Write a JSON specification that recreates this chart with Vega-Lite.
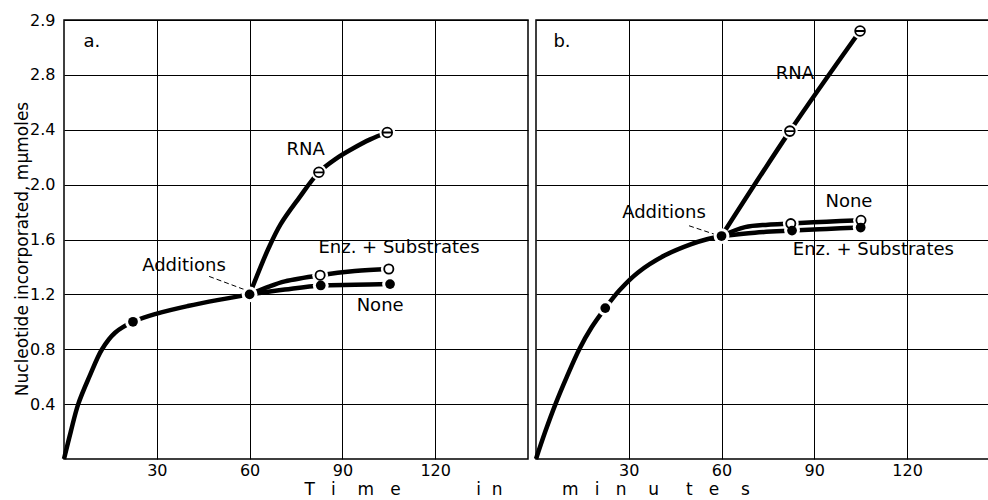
{
  "$schema": "https://vega.github.io/schema/vega-lite/v6.json",
  "padding": {"left": 12, "top": 11, "right": 0, "bottom": 0},
  "bounds": "flush",
  "spacing": 8,
  "background": "white",
  "config": {
    "view": {"stroke": "black", "strokeWidth": 1.5},
    "font": "DejaVu Sans",
    "axis": {
      "domain": false, "ticks": false, "grid": true,
      "gridColor": "black", "gridOpacity": 1, "gridWidth": 1,
      "labelFont": "DejaVu Sans", "labelFontSize": 16, "labelColor": "black",
      "titleFont": "DejaVu Sans", "titleFontSize": 17, "titleFontWeight": "normal", "titleColor": "black"
    }
  },
  "data": {"values": [
    {"p":"a","k":"curve","s":"base","t":0,"v":0},
    {"p":"a","k":"curve","s":"base","t":2.2,"v":0.2},
    {"p":"a","k":"curve","s":"base","t":4.6,"v":0.4},
    {"p":"a","k":"curve","s":"base","t":8.2,"v":0.6},
    {"p":"a","k":"curve","s":"base","t":12.3,"v":0.8},
    {"p":"a","k":"curve","s":"base","t":16.5,"v":0.92},
    {"p":"a","k":"curve","s":"base","t":22.3,"v":1.0},
    {"p":"a","k":"curve","s":"base","t":30,"v":1.06},
    {"p":"a","k":"curve","s":"base","t":40,"v":1.115},
    {"p":"a","k":"curve","s":"base","t":50,"v":1.16},
    {"p":"a","k":"curve","s":"base","t":60,"v":1.2},
    {"p":"a","k":"curve","s":"RNA","t":60,"v":1.2},
    {"p":"a","k":"curve","s":"RNA","t":63,"v":1.37},
    {"p":"a","k":"curve","s":"RNA","t":66.2,"v":1.54},
    {"p":"a","k":"curve","s":"RNA","t":70,"v":1.71},
    {"p":"a","k":"curve","s":"RNA","t":75.9,"v":1.9},
    {"p":"a","k":"curve","s":"RNA","t":82.4,"v":2.09},
    {"p":"a","k":"curve","s":"RNA","t":88,"v":2.19},
    {"p":"a","k":"curve","s":"RNA","t":93.1,"v":2.26},
    {"p":"a","k":"curve","s":"RNA","t":99,"v":2.33},
    {"p":"a","k":"curve","s":"RNA","t":104.5,"v":2.38},
    {"p":"a","k":"curve","s":"Enz","t":60,"v":1.2},
    {"p":"a","k":"curve","s":"Enz","t":66,"v":1.255},
    {"p":"a","k":"curve","s":"Enz","t":71.4,"v":1.295},
    {"p":"a","k":"curve","s":"Enz","t":82.8,"v":1.34},
    {"p":"a","k":"curve","s":"Enz","t":94,"v":1.37},
    {"p":"a","k":"curve","s":"Enz","t":105,"v":1.385},
    {"p":"a","k":"curve","s":"None","t":60,"v":1.2},
    {"p":"a","k":"curve","s":"None","t":71.4,"v":1.235},
    {"p":"a","k":"curve","s":"None","t":83,"v":1.265},
    {"p":"a","k":"curve","s":"None","t":94,"v":1.27},
    {"p":"a","k":"curve","s":"None","t":105.4,"v":1.275},
    {"p":"a","k":"pt","m":"filled","t":22.3,"v":1.0},
    {"p":"a","k":"pt","m":"filled","t":60,"v":1.2},
    {"p":"a","k":"pt","m":"filled","t":83,"v":1.265},
    {"p":"a","k":"pt","m":"filled","t":105.4,"v":1.275},
    {"p":"a","k":"pt","m":"open","t":82.8,"v":1.34},
    {"p":"a","k":"pt","m":"open","t":105,"v":1.385},
    {"p":"a","k":"pt","m":"bar","t":82.4,"v":2.09},
    {"p":"a","k":"pt","m":"bar","t":104.5,"v":2.38},
    {"p":"a","k":"lead","s":"lead","t":46.9,"v":1.331},
    {"p":"a","k":"lead","s":"lead","t":58.2,"v":1.236},
    {"p":"a","k":"label","label":"a.","t":9.0,"v":3.04},
    {"p":"a","k":"label","label":"RNA","t":78.1,"v":2.255},
    {"p":"a","k":"label","label":"Enz. + Substrates","t":108.3,"v":1.535},
    {"p":"a","k":"label","label":"None","t":102.2,"v":1.113},
    {"p":"a","k":"label","label":"Additions","t":38.8,"v":1.404},

    {"p":"b","k":"curve","s":"base","t":0,"v":0},
    {"p":"b","k":"curve","s":"base","t":3,"v":0.2},
    {"p":"b","k":"curve","s":"base","t":6.3,"v":0.4},
    {"p":"b","k":"curve","s":"base","t":10,"v":0.6},
    {"p":"b","k":"curve","s":"base","t":14,"v":0.8},
    {"p":"b","k":"curve","s":"base","t":18,"v":0.96},
    {"p":"b","k":"curve","s":"base","t":22.4,"v":1.1},
    {"p":"b","k":"curve","s":"base","t":27,"v":1.23},
    {"p":"b","k":"curve","s":"base","t":33,"v":1.36},
    {"p":"b","k":"curve","s":"base","t":41.7,"v":1.485},
    {"p":"b","k":"curve","s":"base","t":50,"v":1.565},
    {"p":"b","k":"curve","s":"base","t":55,"v":1.6},
    {"p":"b","k":"curve","s":"base","t":60,"v":1.625},
    {"p":"b","k":"curve","s":"RNA","t":60,"v":1.625},
    {"p":"b","k":"curve","s":"RNA","t":82.1,"v":2.39},
    {"p":"b","k":"curve","s":"RNA","t":104.8,"v":3.12},
    {"p":"b","k":"curve","s":"None","t":60,"v":1.625},
    {"p":"b","k":"curve","s":"None","t":67.6,"v":1.69},
    {"p":"b","k":"curve","s":"None","t":75,"v":1.708},
    {"p":"b","k":"curve","s":"None","t":82.4,"v":1.716},
    {"p":"b","k":"curve","s":"None","t":94,"v":1.73},
    {"p":"b","k":"curve","s":"None","t":105.1,"v":1.74},
    {"p":"b","k":"curve","s":"Enz","t":60,"v":1.625},
    {"p":"b","k":"curve","s":"Enz","t":70.8,"v":1.65},
    {"p":"b","k":"curve","s":"Enz","t":82.8,"v":1.665},
    {"p":"b","k":"curve","s":"Enz","t":94,"v":1.677},
    {"p":"b","k":"curve","s":"Enz","t":105,"v":1.687},
    {"p":"b","k":"pt","m":"filled","t":22.4,"v":1.1},
    {"p":"b","k":"pt","m":"filled","t":60,"v":1.625},
    {"p":"b","k":"pt","m":"open","t":82.4,"v":1.716},
    {"p":"b","k":"pt","m":"open","t":105.1,"v":1.74},
    {"p":"b","k":"pt","m":"filled","t":82.8,"v":1.665},
    {"p":"b","k":"pt","m":"filled","t":105,"v":1.687},
    {"p":"b","k":"pt","m":"bar","t":82.1,"v":2.39},
    {"p":"b","k":"pt","m":"bar","t":104.8,"v":3.12},
    {"p":"b","k":"lead","s":"lead","t":49.5,"v":1.70},
    {"p":"b","k":"lead","s":"lead","t":57.5,"v":1.64},
    {"p":"b","k":"label","label":"b.","t":8.4,"v":3.04},
    {"p":"b","k":"label","label":"RNA","t":83.7,"v":2.807},
    {"p":"b","k":"label","label":"None","t":101.2,"v":1.876},
    {"p":"b","k":"label","label":"Enz. + Substrates","t":109.1,"v":1.52},
    {"p":"b","k":"label","label":"Additions","t":41.4,"v":1.79}
  ]},
  "hconcat": [
    {
      "width": 464, "height": 439,
      "transform": [{"filter": "datum.p == 'a'"}],
      "encoding": {
        "x": {"field": "t", "type": "quantitative", "scale": {"domain": [0, 150], "nice": false, "zero": false},
          "axis": {"values": [30, 60, 90, 120], "labelPadding": 3,
            "title": "T\u00a0\u00a0\u00a0i\u00a0\u00a0\u00a0\u00a0m\u00a0\u00a0\u00a0e\u00a0\u00a0\u00a0\u00a0\u00a0\u00a0\u00a0\u00a0\u00a0\u00a0\u00a0\u00a0\u00a0\u00a0i\u00a0\u00a0n\u00a0\u00a0\u00a0\u00a0\u00a0\u00a0\u00a0\u00a0\u00a0\u00a0\u00a0m\u00a0\u00a0\u00a0i\u00a0\u00a0\u00a0n\u00a0\u00a0\u00a0\u00a0u\u00a0\u00a0\u00a0\u00a0\u00a0t\u00a0\u00a0\u00a0e\u00a0\u00a0\u00a0\u00a0s",
            "titleX": 240, "titleY": 30, "titleAlign": "left", "titleBaseline": "middle"}},
        "y": {"field": "v", "type": "quantitative", "scale": {"domain": [0, 3.2], "nice": false, "zero": false},
          "axis": {"values": [0.4, 0.8, 1.2, 1.6, 2.0, 2.4, 2.8, 3.2],
            "labelExpr": "datum.value > 3 ? '2.9' : format(datum.value, '.1f')",
            "labelPadding": 9, "labelBaseline": "middle",
            "title": "Nucleotide incorporated, mμmoles",
            "titleX": -42, "titleY": 228.5, "titleAngle": -90, "titleAlign": "center", "titleBaseline": "middle"}}
      },
      "layer": [
        {"transform": [{"filter": "datum.k == 'lead'"}],
         "mark": {"type": "line", "stroke": "black", "strokeWidth": 1, "strokeDash": [5, 3]},
         "encoding": {"detail": {"field": "s"}}},
        {"transform": [{"filter": "datum.k == 'curve'"}],
         "mark": {"type": "line", "interpolate": "catmull-rom", "stroke": "black", "strokeWidth": 4.5},
         "encoding": {"detail": {"field": "s"}}},
        {"transform": [{"filter": "datum.k == 'pt'"}],
         "mark": {"type": "point", "shape": "circle", "filled": true, "color": "white", "opacity": 1, "size": 250}},
        {"transform": [{"filter": "datum.m == 'open'"}],
         "mark": {"type": "point", "shape": "circle", "filled": false, "fill": "white", "stroke": "black", "strokeWidth": 1.8, "opacity": 1, "size": 85}},
        {"transform": [{"filter": "datum.m == 'bar'"}],
         "mark": {"type": "point", "shape": "M-1,0A1,1,0,1,1,1,0A1,1,0,1,1,-1,0ZM-1,0L1,0", "filled": false, "fill": "white", "stroke": "black", "strokeWidth": 1.8, "opacity": 1, "size": 95}},
        {"transform": [{"filter": "datum.m == 'filled'"}],
         "mark": {"type": "point", "shape": "circle", "filled": true, "color": "black", "opacity": 1, "size": 95}},
        {"transform": [{"filter": "datum.k == 'label'"}],
         "mark": {"type": "text", "font": "DejaVu Sans", "fontSize": 18, "align": "center", "baseline": "middle", "color": "black"},
         "encoding": {"text": {"field": "label"}}}
      ]
    },
    {
      "width": 453, "height": 439,
      "transform": [{"filter": "datum.p == 'b'"}],
      "encoding": {
        "x": {"field": "t", "type": "quantitative", "scale": {"domain": [0, 146.5], "nice": false, "zero": false},
          "axis": {"values": [30, 60, 90, 120], "labelPadding": 3, "title": null}},
        "y": {"field": "v", "type": "quantitative", "scale": {"domain": [0, 3.2], "nice": false, "zero": false},
          "axis": {"values": [0.4, 0.8, 1.2, 1.6, 2.0, 2.4, 2.8, 3.2], "labels": false, "title": null}}
      },
      "layer": [
        {"transform": [{"filter": "datum.k == 'lead'"}],
         "mark": {"type": "line", "stroke": "black", "strokeWidth": 1, "strokeDash": [5, 3]},
         "encoding": {"detail": {"field": "s"}}},
        {"transform": [{"filter": "datum.k == 'curve'"}],
         "mark": {"type": "line", "interpolate": "catmull-rom", "stroke": "black", "strokeWidth": 4.5},
         "encoding": {"detail": {"field": "s"}}},
        {"transform": [{"filter": "datum.k == 'pt'"}],
         "mark": {"type": "point", "shape": "circle", "filled": true, "color": "white", "opacity": 1, "size": 250}},
        {"transform": [{"filter": "datum.m == 'open'"}],
         "mark": {"type": "point", "shape": "circle", "filled": false, "fill": "white", "stroke": "black", "strokeWidth": 1.8, "opacity": 1, "size": 85}},
        {"transform": [{"filter": "datum.m == 'bar'"}],
         "mark": {"type": "point", "shape": "M-1,0A1,1,0,1,1,1,0A1,1,0,1,1,-1,0ZM-1,0L1,0", "filled": false, "fill": "white", "stroke": "black", "strokeWidth": 1.8, "opacity": 1, "size": 95}},
        {"transform": [{"filter": "datum.m == 'filled'"}],
         "mark": {"type": "point", "shape": "circle", "filled": true, "color": "black", "opacity": 1, "size": 95}},
        {"transform": [{"filter": "datum.k == 'label'"}],
         "mark": {"type": "text", "font": "DejaVu Sans", "fontSize": 18, "align": "center", "baseline": "middle", "color": "black"},
         "encoding": {"text": {"field": "label"}}}
      ]
    }
  ]
}
